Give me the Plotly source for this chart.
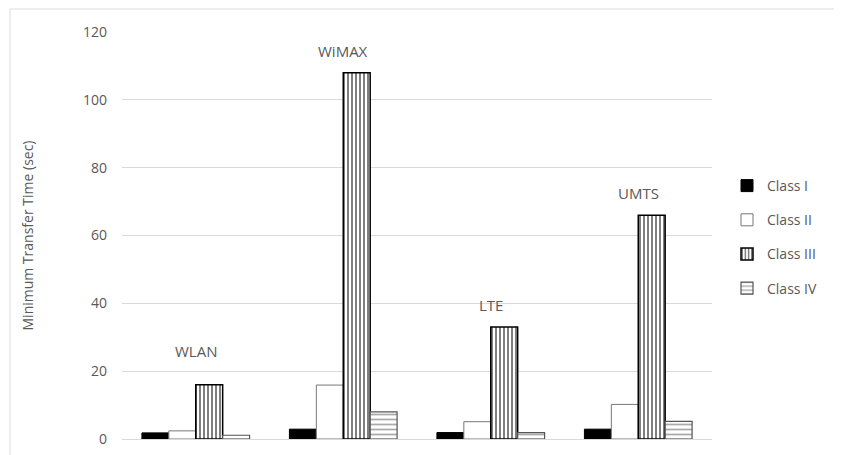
import plotly.graph_objects as go

categories = ["WLAN", "WiMAX", "LTE", "UMTS"]
class_names = ["Class I", "Class II", "Class III", "Class IV"]
class_i = [1.8, 2.9, 1.9, 2.9]
class_ii = [2.4, 15.9, 5.1, 10.2]
class_iii = [16, 108, 33, 66]
class_iv = [1.1, 8.0, 1.9, 5.2]
series = [class_i, class_ii, class_iii, class_iv]

gray = "#595959"
font = "Open Sans"

styles = [
    dict(color="black", line=dict(color="black", width=1)),
    dict(color="white", line=dict(color="#777777", width=1)),
    dict(color="white", line=dict(color="black", width=1.5),
         pattern=dict(shape="|", size=4, solidity=0.5, fgcolor="black", bgcolor="white", fillmode="overlay")),
    dict(color="white", line=dict(color="#555555", width=1.2),
         pattern=dict(shape="-", size=5, solidity=0.35, fgcolor="#555555", bgcolor="white", fillmode="overlay")),
]

fig = go.Figure()
for name, vals, st in zip(class_names, series, styles):
    fig.add_trace(go.Bar(x=categories, y=vals, name=name, marker=st, legendgroup=name))

label_shift = [22, 10, 10, 10]
for cat, v, s in zip(categories, class_iii, label_shift):
    fig.add_annotation(x=cat, y=v, text=cat, showarrow=False, yshift=s, yanchor="bottom",
                       font=dict(family=font, size=15, color=gray))

W, H = 834, 447
L, T, B = 114, 24, 16
PW = 590
PH = H - T - B
R = W - L - PW

# light frame (top and left edges only; the rest is cropped in the reference)
frame_top = 1 + (T - 1) / PH
frame_left = (2 - L) / PW
fig.add_shape(type="line", xref="paper", yref="paper",
              x0=frame_left, x1=(W - L) / PW, y0=frame_top, y1=frame_top,
              line=dict(color="#dcdcdc", width=1), layer="below")
fig.add_shape(type="line", xref="paper", yref="paper",
              x0=frame_left, x1=frame_left, y0=-B / PH, y1=frame_top,
              line=dict(color="#dcdcdc", width=1), layer="below")

fig.update_layout(
    width=W, height=H,
    margin=dict(l=L, r=R, t=T, b=B, autoexpand=False),
    plot_bgcolor="white", paper_bgcolor="white",
    barmode="group", bargap=0.27, bargroupgap=0,
    font=dict(family=font, size=13, color=gray),
    showlegend=True,
    legend=dict(x=(727 - 122) / PW, xanchor="left", y=(439 - 170) / PH, yanchor="top",
                font=dict(family=font, size=14, color=gray), tracegroupgap=13,
                itemwidth=30, bgcolor="rgba(0,0,0,0)"),
    xaxis=dict(showticklabels=False, showgrid=False, zeroline=False, showline=False, ticks=""),
    yaxis=dict(range=[0, 120], dtick=20, showgrid=True, gridcolor="#d9d9d9", gridwidth=1,
               zeroline=True, zerolinecolor="#d9d9d9", zerolinewidth=1,
               ticks="", ticklabelstandoff=14,
               tickfont=dict(family=font, size=14, color=gray),
               title=dict(text="Minimum Transfer Time (sec)", standoff=46,
                          font=dict(family=font, size=14, color=gray)),
               automargin=False),
)

fig.write_html("out.html")
